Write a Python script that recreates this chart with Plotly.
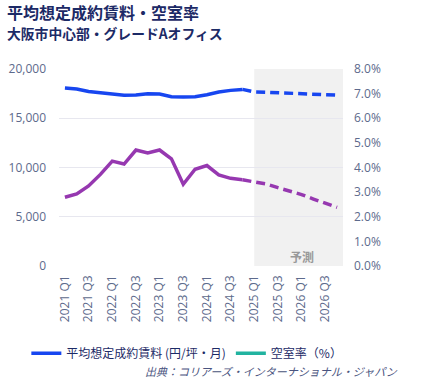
import plotly.graph_objects as go

quarters = ["2021 Q1", "2021 Q2", "2021 Q3", "2021 Q4",
            "2022 Q1", "2022 Q2", "2022 Q3", "2022 Q4",
            "2023 Q1", "2023 Q2", "2023 Q3", "2023 Q4",
            "2024 Q1", "2024 Q2", "2024 Q3", "2024 Q4",
            "2025 Q1", "2025 Q2", "2025 Q3", "2025 Q4",
            "2026 Q1", "2026 Q2", "2026 Q3", "2026 Q4"]
tick_labels = ["2021 Q1", "2021 Q3", "2022 Q1", "2022 Q3", "2023 Q1", "2023 Q3",
               "2024 Q1", "2024 Q3", "2025 Q1", "2025 Q3", "2026 Q1", "2026 Q3"]

# 平均想定成約賃料 (円/坪・月)
rent_actual = [18070, 17970, 17720, 17590, 17460, 17330, 17350, 17490,
               17460, 17190, 17150, 17190, 17390, 17660, 17830, 17930]
rent_forecast = [17680, 17640, 17600, 17520, 17490, 17460, 17400, 17340]

# 空室率 (%)
vacancy_actual = [2.79, 2.93, 3.25, 3.72, 4.26, 4.14, 4.71, 4.59,
                  4.71, 4.35, 3.32, 3.93, 4.08, 3.70, 3.56, 3.50]
vacancy_forecast = [3.42, 3.33, 3.18, 3.05, 2.90, 2.72, 2.55, 2.38]

n_act = len(rent_actual)
x_act = quarters[:n_act]
x_fc = quarters[n_act - 1:]

BLUE = "#1746f0"
PURPLE = "#9638b0"
TEAL = "#21b3a0"
AXIS_TXT = "#5d6a8c"
NAVY = "#1c2a66"
JP = "Noto Sans CJK JP"
LAT = "Open Sans, Noto Sans CJK JP"

fig = go.Figure()
fig.add_trace(go.Scatter(x=x_act, y=rent_actual, mode="lines", name="平均想定成約賃料 (円/坪・月)",
                         line=dict(color=BLUE, width=3.5), yaxis="y", showlegend=True))
fig.add_trace(go.Scatter(x=x_fc, y=[rent_actual[-1]] + rent_forecast, mode="lines",
                         line=dict(color=BLUE, width=3.5, dash="9px,5px"), yaxis="y", showlegend=False))
fig.add_trace(go.Scatter(x=x_act, y=vacancy_actual, mode="lines",
                         line=dict(color=PURPLE, width=3.5), yaxis="y2", showlegend=False))
fig.add_trace(go.Scatter(x=x_fc, y=[vacancy_actual[-1]] + vacancy_forecast, mode="lines",
                         line=dict(color=PURPLE, width=3.5, dash="9px,5px"), yaxis="y2", showlegend=False))
fig.add_trace(go.Scatter(x=[None], y=[None], mode="lines", name="空室率（%）",
                         line=dict(color=TEAL, width=3.5), yaxis="y2", showlegend=True))

fig.add_shape(type="rect", xref="x", yref="paper", x0=16, x1=23.5, y0=0, y1=1,
              fillcolor="#f1f1f1", line=dict(width=0), layer="below")

fig.update_layout(
    width=425, height=380,
    margin=dict(l=59, r=82, t=69, b=114, autoexpand=False),
    paper_bgcolor="white", plot_bgcolor="white",
    font=dict(family=LAT, color=AXIS_TXT, size=12),
    xaxis=dict(type="category", categoryorder="array", categoryarray=quarters,
               range=[-0.5, 23.5], tickmode="array", tickvals=tick_labels, ticktext=tick_labels,
               tickangle=-90, showgrid=False, showline=False, zeroline=False,
               tickfont=dict(size=12, color=AXIS_TXT), ticks="", ticklabelstandoff=6,
               automargin=False),
    yaxis=dict(range=[0, 20000], dtick=5000, tickformat=",", showgrid=True,
               gridcolor="#e7e7ef", gridwidth=1, zeroline=False, showline=False,
               tickfont=dict(size=12, color=AXIS_TXT), ticklabelstandoff=12, automargin=False),
    yaxis2=dict(range=[0, 8], dtick=1, tickformat=".1f", ticksuffix="%", overlaying="y",
                side="right", showgrid=False, zeroline=False, showline=False,
                tickfont=dict(size=12, color=AXIS_TXT), ticklabelstandoff=10, automargin=False),
    legend=dict(orientation="h", x=-0.115, xanchor="left", y=-0.443, yanchor="middle",
                font=dict(family=JP, size=12, color=NAVY), bgcolor="rgba(0,0,0,0)"),
    annotations=[
        dict(text="<b>平均想定成約賃料・空室率</b>", xref="paper", yref="paper",
             x=-0.19, y=1.291, xanchor="left", yanchor="middle", showarrow=False,
             font=dict(family=JP, size=16, color=NAVY)),
        dict(text="<b>大阪市中心部・グレードAオフィス</b>", xref="paper", yref="paper",
             x=-0.19, y=1.181, xanchor="left", yanchor="middle", showarrow=False,
             font=dict(family=JP, size=13.8, color=NAVY)),
        dict(text="<i>出典：コリアーズ・インターナショナル・ジャパン</i>", xref="paper", yref="paper",
             x=1.2007, y=-0.533, xanchor="right", yanchor="middle", showarrow=False,
             font=dict(family=JP, size=11, color="#4a5480")),
        dict(text="<b>予測</b>", xref="x", yref="paper", x=20, y=0.05,
             xanchor="center", yanchor="middle", showarrow=False,
             font=dict(family=JP, size=12, color="#999999")),
    ],
)

fig.write_html("out.html", config={"displayModeBar": False},
               post_script="document.body.style.margin='0';")
